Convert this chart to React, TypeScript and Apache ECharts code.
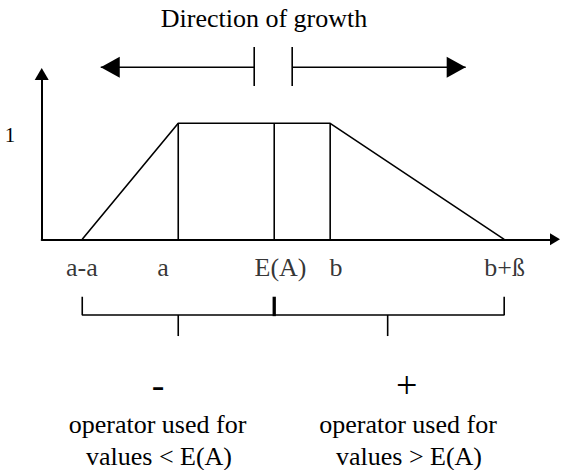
import React, { useEffect, useRef } from "react";
import * as echarts from "echarts";

// ---- data ----
const pointLabels = ["a-a", "a", "E(A)", "b", "b+ß"];
const pointX = [7.9, 26.6, 45.3, 56.2, 90.1];
const membership = [0, 1, 1, 1, 0];
const yTickLabels = ["1"];
const bracketTicks = [26.6, 67.4];
const growthLeft = [41.4, 11.5]; // from tick to arrow tip
const growthRight = [48.8, 82.6];
const titleText = "Direction of growth";
const signs = ["-", "+"];
const noteLine1 = ["operator used for", "operator used for"];
const noteLine2 = ["values < E(A)", "values > E(A)"];

// ---- layout ----
const W = 561;
const H = 470;
const GRID = { left: 41.7, right: 6, top: 74, bottom: 230.7 };
const X_MAX = 100;
const Y_MAX = 1.425;
const pxPerX = (W - GRID.left - GRID.right) / X_MAX;
const FONT = "Liberation Serif";

const seg = (data: number[][], width = 1.6) => ({
  type: "line",
  data,
  symbol: "none",
  clip: false,
  silent: true,
  lineStyle: { color: "#000", width },
  z: 3,
});

const txt = (text: string, x: number, y: number, size: number) => ({
  type: "text",
  x,
  y,
  style: {
    text,
    fontFamily: FONT,
    fontSize: size,
    fill: "#000",
    align: "center",
    verticalAlign: "middle",
  },
});

export default function App() {
  const ref = useRef<HTMLDivElement>(null);
  useEffect(() => {
    if (!ref.current) return;
    const chart = echarts.init(ref.current, undefined, { renderer: "svg" });

    const trapezoid = pointX.map((x, i) => [x, membership[i]]);
    const verticals = [1, 2, 3].map((i) => seg([[pointX[i], 0], [pointX[i], membership[i]]]));

    const brTop = -0.495;
    const brLine = -0.6526;
    const brBottom = -0.834;
    const arrowY = 1.483;
    const dirTickTop = 1.658;
    const dirTickBottom = 1.3216;
    const headLen = 19;
    const labelY = -0.245;
    const labelNudge = [-0.4, -15.3, 6.3, 5.8, 0.4];

    const option: any = {
      animation: false,
      grid: GRID,
      xAxis: {
        type: "value",
        min: 0,
        max: X_MAX,
        axisLine: {
          show: true,
          symbol: ["none", "triangle"],
          symbolSize: [12, 10],
          lineStyle: { color: "#000", width: 2 },
        },
        axisTick: { show: false },
        axisLabel: { show: false },
        splitLine: { show: false },
      },
      yAxis: {
        type: "value",
        min: 0,
        max: Y_MAX,
        interval: 1,
        axisLine: {
          show: true,
          symbol: ["none", "triangle"],
          symbolSize: [14, 12],
          lineStyle: { color: "#000", width: 2 },
        },
        axisTick: { show: false },
        axisLabel: {
          show: true,
          formatter: (v: number) => (v === 1 ? yTickLabels[0] : ""),
          color: "#000",
          fontFamily: FONT,
          fontSize: 21,
          margin: 26.5,
          verticalAlign: "top",
          lineHeight: 24,
        },
        splitLine: { show: false },
      },
      series: [
        seg(trapezoid),
        ...verticals,
        // bracket
        seg([
          [pointX[0], brTop],
          [pointX[0], brLine],
          [pointX[4], brLine],
          [pointX[4], brTop],
        ]),
        seg([[pointX[2], brTop], [pointX[2], brLine - 0.01]], 3.3),
        ...bracketTicks.map((x) => seg([[x, brLine], [x, brBottom]])),
        // direction of growth
        seg([[growthLeft[0], arrowY], [growthLeft[1], arrowY]]),
        seg([[growthRight[0], arrowY], [growthRight[1], arrowY]]),
        seg([[growthLeft[0], dirTickTop], [growthLeft[0], dirTickBottom]]),
        seg([[growthRight[0], dirTickTop], [growthRight[0], dirTickBottom]]),
        {
          type: "scatter",
          clip: false,
          silent: true,
          symbol: "triangle",
          symbolSize: [21, headLen],
          data: [
            { value: [growthLeft[1] + headLen / 2 / pxPerX, arrowY], symbolRotate: 90 },
            { value: [growthRight[1] - headLen / 2 / pxPerX, arrowY], symbolRotate: -90 },
          ],
          itemStyle: { color: "#000", opacity: 1 },
          z: 4,
        },
        // x point labels
        {
          type: "scatter",
          clip: false,
          silent: true,
          symbolSize: 0,
          itemStyle: { color: "transparent" },
          data: pointLabels.map((t, i) => ({
            value: [pointX[i], labelY],
            label: { formatter: t, offset: [labelNudge[i], 0] },
          })),
          label: {
            show: true,
            position: "inside",
            color: "#000",
            fontFamily: FONT,
            fontSize: 26,
          },
          z: 5,
        },
      ],
      graphic: [
        txt(titleText, 264, 18, 26),
        txt(signs[0], 158, 384.5, 38),
        txt(signs[1], 406.7, 384.5, 38),
        txt(noteLine1[0], 157.5, 424, 26),
        txt(noteLine1[1], 408, 424, 26),
        txt(noteLine2[0], 159, 456, 26),
        txt(noteLine2[1], 409, 456, 26),
      ],
    };
    chart.setOption(option);
    return () => chart.dispose();
  }, []);

  return (
    <div
      ref={ref}
      style={{ position: "fixed", left: 0, top: 0, width: W, height: H, background: "#fff" }}
    />
  );
}
